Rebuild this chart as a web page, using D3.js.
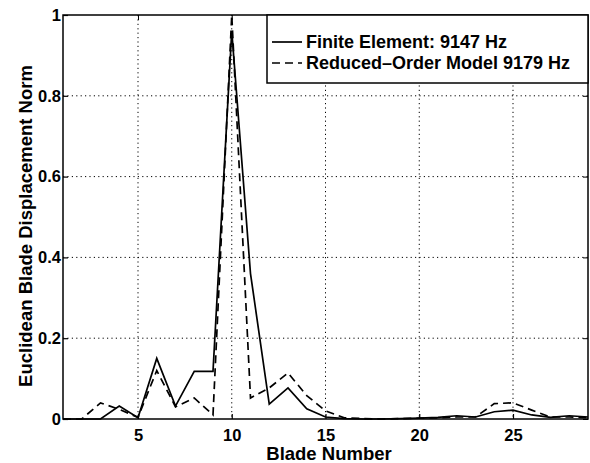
<!DOCTYPE html>
<html>
<head>
<meta charset="utf-8">
<script src="https://cdn.jsdelivr.net/npm/d3@7"></script>
<style>
  body { margin: 0; background: #fff; }
  text { font-family: "Liberation Sans", Arial, sans-serif; font-weight: bold; fill: #000; }
</style>
</head>
<body>
<svg id="chart" width="590" height="463"></svg>
<script>
// blade numbers and displacement norms
var blades = [1,2,3,4,5,6,7,8,9,10,11,12,13,14,15,16,17,18,19,20,21,22,23,24,25,26,27,28,29];
var finiteElement = [0,0,0,0.032,0.003,0.15,0.032,0.118,0.118,0.96,0.36,0.037,0.077,0.025,0.005,0.001,0,0,0.001,0.002,0.004,0.008,0.005,0.018,0.022,0.01,0.004,0.008,0.005];
var reducedOrder = [0,0,0.04,0.024,0.004,0.12,0.03,0.052,0.01,1.0,0.052,0.077,0.114,0.058,0.02,0.003,0.001,0,0.001,0.002,0.003,0.005,0.005,0.038,0.04,0.022,0.005,0.005,0.003];
var xTicks = [5,10,15,20,25];
var yTicks = [0,0.2,0.4,0.6,0.8,1];
var yTickLabels = ["0","0.2","0.4","0.6","0.8","1"];
var legendLabels = ["Finite Element: 9147 Hz", "Reduced\u2013Order Model 9179 Hz"];

var svg = d3.select("#chart");
// plot box (window.top is reserved, so own names)
var pL = 63, pR = 588, pT = 15, pB = 419;

var x = d3.scaleLinear().domain([1,29]).range([pL,pR]);
var y = d3.scaleLinear().domain([0,1]).range([pB,pT]);

// dotted grid
var grid = svg.append("g").attr("class","grid")
    .style("stroke","#000").style("stroke-width",1).style("stroke-dasharray","1.2,3.2");
grid.selectAll("line.vx").data(xTicks).enter().append("line")
    .attr("x1",function(d){return x(d);}).attr("x2",function(d){return x(d);})
    .attr("y1",pT).attr("y2",pB);
grid.selectAll("line.hy").data(yTicks.slice(1,-1)).enter().append("line")
    .attr("x1",pL).attr("x2",pR)
    .attr("y1",function(d){return y(d);}).attr("y2",function(d){return y(d);});

// axes, ticks pointing inward like matlab
var xAxis = d3.axisBottom(x).tickValues(xTicks).tickSizeInner(-5).tickSizeOuter(0).tickPadding(10);
var yAxis = d3.axisLeft(y).tickValues(yTicks).tickSizeInner(-5).tickSizeOuter(0).tickPadding(2)
    .tickFormat(function(d,i){return yTickLabels[i];});

var gx = svg.append("g").attr("transform","translate(0,"+pB+")").call(xAxis);
var gy = svg.append("g").attr("transform","translate("+pL+",0)").call(yAxis);
gx.select(".domain").remove();
gy.select(".domain").remove();
gx.selectAll("text").style("font-size","16.5px").attr("dy","0.7em");
gy.selectAll("text").style("font-size","16.5px");
svg.selectAll(".tick line").style("stroke","#000").style("stroke-width",1.2);

// top / right ticks
var gt = svg.append("g").attr("transform","translate(0,"+pT+")")
    .call(d3.axisTop(x).tickValues(xTicks).tickSizeInner(-5).tickSizeOuter(0).tickFormat(""));
gt.select(".domain").remove();
var gr = svg.append("g").attr("transform","translate("+pR+",0)")
    .call(d3.axisRight(y).tickValues(yTicks).tickSizeInner(-5).tickSizeOuter(0).tickFormat(""));
gr.select(".domain").remove();

// box
svg.append("rect").attr("x",pL).attr("y",pT)
    .attr("width",pR-pL).attr("height",pB-pT)
    .style("fill","none").style("stroke","#000").style("stroke-width",1.5);

// data lines
var line = d3.line().x(function(d){return x(d[0]);}).y(function(d){return y(d[1]);});

svg.append("path")
    .datum(d3.zip(blades, finiteElement))
    .attr("d", line)
    .style("fill","none").style("stroke","#000").style("stroke-width",1.7);

svg.append("path")
    .datum(d3.zip(blades, reducedOrder))
    .attr("d", line)
    .style("fill","none").style("stroke","#000").style("stroke-width",1.7)
    .style("stroke-dasharray","8,5");

// legend
var lg = svg.append("g");
lg.append("rect").attr("x",267).attr("y",pT).attr("width",pR-267).attr("height",68)
    .style("fill","#fff").style("stroke","#000").style("stroke-width",1.5);
var rows = lg.selectAll("g.row").data(legendLabels).enter().append("g")
    .attr("transform",function(d,i){return "translate(0,"+(42+i*21)+")";});
rows.append("line").attr("x1",272).attr("x2",302).attr("y1",0).attr("y2",0)
    .style("stroke","#000").style("stroke-width",1.7)
    .style("stroke-dasharray",function(d,i){return i ? "8,5" : null;});
rows.append("text").attr("x",306).attr("dy","0.36em")
    .style("font-size","18px").text(function(d){return d;});

// axis titles
svg.append("text").attr("x",329).attr("y",460).attr("text-anchor","middle")
    .style("font-size","18.5px").text("Blade Number");
svg.append("text").attr("transform","translate(32,226) rotate(-90)").attr("text-anchor","middle")
    .style("font-size","18.5px").text("Euclidean Blade Displacement Norm");
</script>
</body>
</html>
